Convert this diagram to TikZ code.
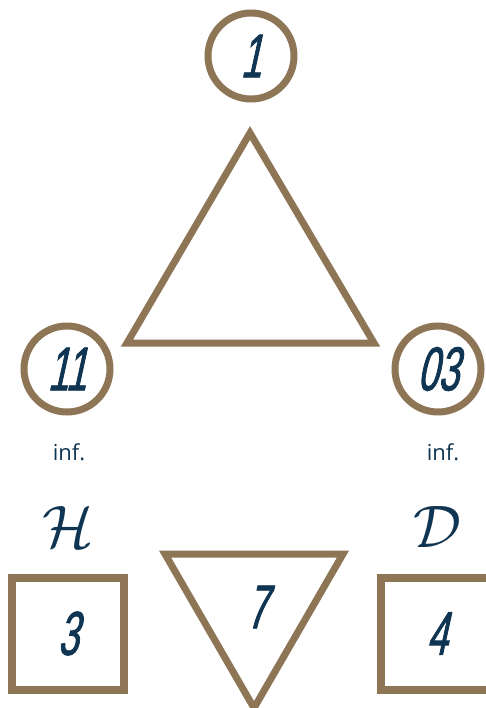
\documentclass[tikz,border=0pt]{standalone}
\usepackage{fix-cm}
\usepackage{fontspec}
\newfontfamily\handfont[FakeStretch=0.6,FakeSlant=0.22,FakeBold=1.3]{Liberation Sans}
\newfontfamily\infofont{Open Sans}
\usetikzlibrary{positioning}
\definecolor{brownline}{RGB}{141,117,86}
\definecolor{inkblue}{RGB}{15,53,82}

\begin{document}
\begin{tikzpicture}[x=1pt, y=-1pt, line width=7pt, line join=miter,
      ring/.style={circle, draw=brownline, minimum size=86pt, inner sep=0pt},
      cell/.style={rectangle, draw=brownline, line width=8pt, minimum size=112pt,
                   inner sep=0pt},
      num/.style={text=inkblue, font=\handfont\fontsize{62}{62}\selectfont},
      note/.style={text=inkblue, inner sep=0pt, font=\infofont\fontsize{22}{22}\selectfont},
      letter/.style={text=inkblue, inner sep=0pt, font=\fontsize{60}{60}\selectfont}]
    \useasboundingbox (0,0) rectangle (485,708);
    % upper triangle with its three rings
    \node[ring, num] (c1) at (251,56) {1};
    \node[ring, num] (c11) at (67,369) {11};
    \node[ring, num] (c03) at (438,369) {03};
    \coordinate (apex) at (250,133);
    \coordinate (baseL) at (127,343);
    \coordinate (baseR) at (374,343);
    \draw[brownline] (apex) -- (baseL) -- (baseR) -- cycle;
    \node[note, below=25pt of c11, xshift=2pt] (infL) {inf.};
    \node[note, below=25pt of c03, xshift=5pt] (infR) {inf.};
    % lower row
    \node[cell, num] (sq3) at (68,633.5) {3};
    \node[cell, num] (sq4) at (437,633.5) {4};
    \node[letter, above=23pt of sq3] (lblH) {$\mathcal{H}$};
    \node[letter, above=23pt of sq4] (lblD) {$\mathcal{D}$};
    \coordinate (downL) at (165,554);
    \coordinate (downR) at (343,554);
    \coordinate (downTip) at (254,708);
    \draw[brownline] (downL) -- (downR) -- (downTip) -- cycle;
    \node[num] (seven) at (257,607) {7};
  \end{tikzpicture}
\end{document}
